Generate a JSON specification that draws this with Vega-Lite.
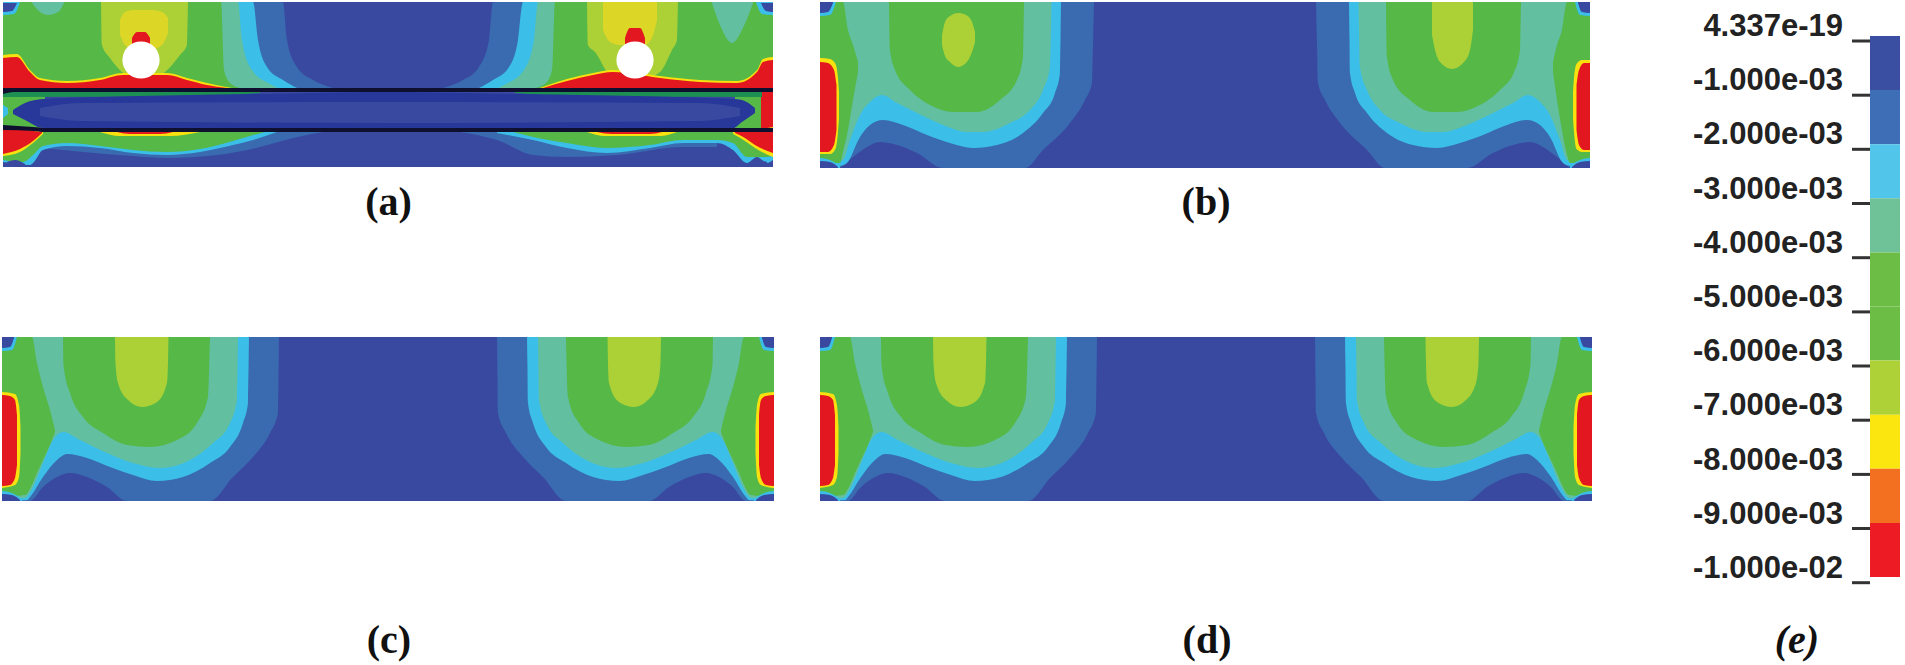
{"$schema":"https://vega.github.io/schema/vega-lite/v6.json","width":1905,"height":665,"padding":0,"autosize":{"type":"none"},"background":"white","config":{"view":{"stroke":null}},
"resolve":{"scale":{"fill":"independent"}},
"layer":[
{"data":{"values":[{"p":"a","x":3,"x2":773,"y":2,"y2":167},{"p":"b","x":820,"x2":1590,"y":2,"y2":168},{"p":"c","x":2,"x2":774,"y":337,"y2":501},{"p":"d","x":820,"x2":1592,"y":337,"y2":501}]},
"mark":{"type":"rect","fill":"#39499f"},
"encoding":{"x":{"field":"x","type":"quantitative","scale":{"domain":[0,1905],"nice":false,"zero":false},"axis":null},"x2":{"field":"x2"},"y":{"field":"y","type":"quantitative","scale":{"domain":[0,665],"reverse":true,"nice":false,"zero":false},"axis":null},"y2":{"field":"y2"}}},
{"data":{"values":[
{"s":"a2l","b":"L2","x":3,"y":2,"y2":88},{"s":"a2l","b":"L2","x":283,"y":2,"y2":88},{"s":"a2l","b":"L2","x":287,"y":40,"y2":88},{"s":"a2l","b":"L2","x":297,"y":67,"y2":88},{"s":"a2l","b":"L2","x":313,"y":80,"y2":88},{"s":"a2l","b":"L2","x":333,"y":88,"y2":88},
{"s":"a2r","b":"L2","x":443,"y":88,"y2":88},{"s":"a2r","b":"L2","x":463,"y":80,"y2":88},{"s":"a2r","b":"L2","x":479,"y":67,"y2":88},{"s":"a2r","b":"L2","x":489,"y":40,"y2":88},{"s":"a2r","b":"L2","x":493,"y":2,"y2":88},{"s":"a2r","b":"L2","x":773,"y":2,"y2":88},
{"s":"a3l","b":"L3","x":3,"y":2,"y2":88},{"s":"a3l","b":"L3","x":253,"y":2,"y2":88},{"s":"a3l","b":"L3","x":258,"y":40,"y2":88},{"s":"a3l","b":"L3","x":267,"y":67,"y2":88},{"s":"a3l","b":"L3","x":283,"y":80,"y2":88},{"s":"a3l","b":"L3","x":297,"y":88,"y2":88},
{"s":"a3r","b":"L3","x":479,"y":88,"y2":88},{"s":"a3r","b":"L3","x":493,"y":80,"y2":88},{"s":"a3r","b":"L3","x":509,"y":67,"y2":88},{"s":"a3r","b":"L3","x":518,"y":40,"y2":88},{"s":"a3r","b":"L3","x":523,"y":2,"y2":88},{"s":"a3r","b":"L3","x":773,"y":2,"y2":88},
{"s":"a4l","b":"L4","x":3,"y":2,"y2":88},{"s":"a4l","b":"L4","x":238,"y":2,"y2":88},{"s":"a4l","b":"L4","x":242,"y":40,"y2":88},{"s":"a4l","b":"L4","x":252,"y":70,"y2":88},{"s":"a4l","b":"L4","x":270,"y":84,"y2":88},{"s":"a4l","b":"L4","x":278,"y":88,"y2":88},
{"s":"a4r","b":"L4","x":498,"y":88,"y2":88},{"s":"a4r","b":"L4","x":506,"y":84,"y2":88},{"s":"a4r","b":"L4","x":524,"y":70,"y2":88},{"s":"a4r","b":"L4","x":534,"y":40,"y2":88},{"s":"a4r","b":"L4","x":538,"y":2,"y2":88},{"s":"a4r","b":"L4","x":773,"y":2,"y2":88},
{"s":"a5l","b":"L5","x":3,"y":2,"y2":88},{"s":"a5l","b":"L5","x":221,"y":2,"y2":88},{"s":"a5l","b":"L5","x":224,"y":70,"y2":88},{"s":"a5l","b":"L5","x":230,"y":83,"y2":88},{"s":"a5l","b":"L5","x":240,"y":88,"y2":88},
{"s":"a5r","b":"L5","x":536,"y":88,"y2":88},{"s":"a5r","b":"L5","x":546,"y":83,"y2":88},{"s":"a5r","b":"L5","x":552,"y":70,"y2":88},{"s":"a5r","b":"L5","x":555,"y":2,"y2":88},{"s":"a5r","b":"L5","x":773,"y":2,"y2":88},
{"s":"a4p","b":"L4","x":32,"y":2,"y2":3},{"s":"a4p","b":"L4","x":40,"y":2,"y2":12},{"s":"a4p","b":"L4","x":48,"y":2,"y2":15},{"s":"a4p","b":"L4","x":58,"y":2,"y2":12},{"s":"a4p","b":"L4","x":64,"y":2,"y2":3},
{"s":"a4q","b":"L4","x":712,"y":2,"y2":3},{"s":"a4q","b":"L4","x":720,"y":2,"y2":25},{"s":"a4q","b":"L4","x":732,"y":2,"y2":43},{"s":"a4q","b":"L4","x":742,"y":2,"y2":30},{"s":"a4q","b":"L4","x":753,"y":2,"y2":3},
{"s":"a7l","b":"L7","x":101,"y":2,"y2":2},{"s":"a7l","b":"L7","x":102,"y":2,"y2":45},{"s":"a7l","b":"L7","x":110,"y":2,"y2":58},{"s":"a7l","b":"L7","x":122,"y":2,"y2":72},{"s":"a7l","b":"L7","x":145,"y":2,"y2":82},{"s":"a7l","b":"L7","x":165,"y":2,"y2":72},{"s":"a7l","b":"L7","x":180,"y":2,"y2":55},{"s":"a7l","b":"L7","x":187,"y":2,"y2":45},{"s":"a7l","b":"L7","x":188,"y":2,"y2":2},
{"s":"a7r","b":"L7","x":587,"y":2,"y2":2},{"s":"a7r","b":"L7","x":588,"y":2,"y2":45},{"s":"a7r","b":"L7","x":595,"y":2,"y2":52},{"s":"a7r","b":"L7","x":610,"y":2,"y2":75},{"s":"a7r","b":"L7","x":635,"y":2,"y2":82},{"s":"a7r","b":"L7","x":660,"y":2,"y2":72},{"s":"a7r","b":"L7","x":672,"y":2,"y2":50},{"s":"a7r","b":"L7","x":677,"y":2,"y2":40},{"s":"a7r","b":"L7","x":678,"y":2,"y2":2},
{"s":"a8l","b":"Y2","x":120,"y":20,"y2":35},{"s":"a8l","b":"Y2","x":125,"y":12,"y2":45},{"s":"a8l","b":"Y2","x":135,"y":10,"y2":50},{"s":"a8l","b":"Y2","x":150,"y":10,"y2":50},{"s":"a8l","b":"Y2","x":162,"y":12,"y2":45},{"s":"a8l","b":"Y2","x":168,"y":18,"y2":33},
{"s":"a8r","b":"Y2","x":603,"y":2,"y2":30},{"s":"a8r","b":"Y2","x":610,"y":2,"y2":42},{"s":"a8r","b":"Y2","x":620,"y":2,"y2":45},{"s":"a8r","b":"Y2","x":645,"y":2,"y2":45},{"s":"a8r","b":"Y2","x":652,"y":2,"y2":38},{"s":"a8r","b":"Y2","x":657,"y":2,"y2":20},
{"s":"a9l","b":"L10","x":132,"y":38,"y2":44},{"s":"a9l","b":"L10","x":137,"y":32,"y2":44},{"s":"a9l","b":"L10","x":145,"y":32,"y2":44},{"s":"a9l","b":"L10","x":150,"y":38,"y2":44},
{"s":"a9r","b":"L10","x":625,"y":38,"y2":44},{"s":"a9r","b":"L10","x":630,"y":28,"y2":44},{"s":"a9r","b":"L10","x":640,"y":28,"y2":44},{"s":"a9r","b":"L10","x":645,"y":38,"y2":44},
{"s":"a8t","b":"L8","x":3,"y":55,"y2":88},{"s":"a8t","b":"L8","x":17,"y":54,"y2":88},{"s":"a8t","b":"L8","x":30,"y":70,"y2":88},{"s":"a8t","b":"L8","x":40,"y":78,"y2":88},{"s":"a8t","b":"L8","x":67,"y":81,"y2":88},{"s":"a8t","b":"L8","x":100,"y":78,"y2":88},{"s":"a8t","b":"L8","x":123,"y":73,"y2":88},{"s":"a8t","b":"L8","x":167,"y":73,"y2":88},{"s":"a8t","b":"L8","x":187,"y":78,"y2":88},{"s":"a8t","b":"L8","x":207,"y":83,"y2":88},{"s":"a8t","b":"L8","x":232,"y":88,"y2":88},
{"s":"a10t","b":"L10","x":3,"y":58,"y2":88},{"s":"a10t","b":"L10","x":17,"y":57,"y2":88},{"s":"a10t","b":"L10","x":30,"y":72,"y2":88},{"s":"a10t","b":"L10","x":40,"y":80,"y2":88},{"s":"a10t","b":"L10","x":67,"y":83,"y2":88},{"s":"a10t","b":"L10","x":100,"y":80,"y2":88},{"s":"a10t","b":"L10","x":123,"y":75,"y2":88},{"s":"a10t","b":"L10","x":167,"y":75,"y2":88},{"s":"a10t","b":"L10","x":187,"y":80,"y2":88},{"s":"a10t","b":"L10","x":207,"y":85,"y2":88},{"s":"a10t","b":"L10","x":227,"y":88,"y2":88},
{"s":"a8u","b":"L8","x":540,"y":88,"y2":88},{"s":"a8u","b":"L8","x":567,"y":79,"y2":88},{"s":"a8u","b":"L8","x":593,"y":73,"y2":88},{"s":"a8u","b":"L8","x":613,"y":70,"y2":88},{"s":"a8u","b":"L8","x":660,"y":76,"y2":88},{"s":"a8u","b":"L8","x":700,"y":80,"y2":88},{"s":"a8u","b":"L8","x":737,"y":81,"y2":88},{"s":"a8u","b":"L8","x":757,"y":70,"y2":88},{"s":"a8u","b":"L8","x":763,"y":59,"y2":88},{"s":"a8u","b":"L8","x":773,"y":57,"y2":88},
{"s":"a10u","b":"L10","x":543,"y":88,"y2":88},{"s":"a10u","b":"L10","x":567,"y":81,"y2":88},{"s":"a10u","b":"L10","x":593,"y":75,"y2":88},{"s":"a10u","b":"L10","x":613,"y":72,"y2":88},{"s":"a10u","b":"L10","x":660,"y":78,"y2":88},{"s":"a10u","b":"L10","x":700,"y":82,"y2":88},{"s":"a10u","b":"L10","x":737,"y":83,"y2":88},{"s":"a10u","b":"L10","x":757,"y":72,"y2":88},{"s":"a10u","b":"L10","x":763,"y":62,"y2":88},{"s":"a10u","b":"L10","x":773,"y":60,"y2":88},
{"s":"amg","b":"L5","x":3,"y":92,"y2":130},{"s":"amg","b":"L5","x":45,"y":92,"y2":130},
{"s":"amh","b":"L5","x":735,"y":92,"y2":130},{"s":"amh","b":"L5","x":761,"y":92,"y2":130},
{"s":"amr","b":"L10","x":761,"y":92,"y2":130},{"s":"amr","b":"L10","x":773,"y":92,"y2":130},
{"s":"amc","b":"L3","x":3,"y":105,"y2":118},{"s":"amc","b":"L3","x":8,"y":108,"y2":114},
{"s":"agt","b":"G","x":3,"y":92,"y2":97},{"s":"agt","b":"G","x":200,"y":92,"y2":96},{"s":"agt","b":"G","x":260,"y":92,"y2":93},
{"s":"agu","b":"G","x":515,"y":92,"y2":93},{"s":"agu","b":"G","x":575,"y":92,"y2":96},{"s":"agu","b":"G","x":762,"y":92,"y2":97},
{"s":"amd","b":"D","x":13,"y":110,"y2":114},{"s":"amd","b":"D","x":25,"y":103,"y2":120},{"s":"amd","b":"D","x":43,"y":99,"y2":128},{"s":"amd","b":"D","x":100,"y":97,"y2":128},{"s":"amd","b":"D","x":260,"y":94,"y2":128},{"s":"amd","b":"D","x":388,"y":92,"y2":128},{"s":"amd","b":"D","x":516,"y":94,"y2":128},{"s":"amd","b":"D","x":676,"y":97,"y2":128},{"s":"amd","b":"D","x":733,"y":99,"y2":128},{"s":"amd","b":"D","x":742,"y":100,"y2":122},{"s":"amd","b":"D","x":755,"y":108,"y2":113},
{"s":"aml","b":"L1","x":40,"y":108,"y2":116},{"s":"aml","b":"L1","x":80,"y":103,"y2":121},{"s":"aml","b":"L1","x":388,"y":102,"y2":123},{"s":"aml","b":"L1","x":700,"y":103,"y2":121},{"s":"aml","b":"L1","x":740,"y":108,"y2":116},
{"s":"akt","b":"K","x":3,"y":88,"y2":94},{"s":"akt","b":"K","x":14,"y":88,"y2":92},{"s":"akt","b":"K","x":773,"y":88,"y2":92},
{"s":"abb","b":"L2","x":43,"y":132,"y2":148},{"s":"abb","b":"L2","x":83,"y":132,"y2":152},{"s":"abb","b":"L2","x":133,"y":132,"y2":156},{"s":"abb","b":"L2","x":167,"y":132,"y2":158},{"s":"abb","b":"L2","x":217,"y":132,"y2":155},{"s":"abb","b":"L2","x":260,"y":132,"y2":147},{"s":"abb","b":"L2","x":293,"y":132,"y2":138},{"s":"abb","b":"L2","x":323,"y":132,"y2":132},
{"s":"abc","b":"L2","x":460,"y":132,"y2":132},{"s":"abc","b":"L2","x":497,"y":132,"y2":140},{"s":"abc","b":"L2","x":533,"y":132,"y2":155},{"s":"abc","b":"L2","x":567,"y":132,"y2":157},{"s":"abc","b":"L2","x":617,"y":132,"y2":155},{"s":"abc","b":"L2","x":683,"y":132,"y2":147},{"s":"abc","b":"L2","x":717,"y":132,"y2":147},
{"s":"acb","b":"L3","x":3,"y":132,"y2":162},{"s":"acb","b":"L3","x":30,"y":132,"y2":165},{"s":"acb","b":"L3","x":33,"y":132,"y2":163},{"s":"acb","b":"L3","x":43,"y":132,"y2":150},{"s":"acb","b":"L3","x":67,"y":132,"y2":146},{"s":"acb","b":"L3","x":100,"y":132,"y2":148},{"s":"acb","b":"L3","x":133,"y":132,"y2":153},{"s":"acb","b":"L3","x":167,"y":132,"y2":155},{"s":"acb","b":"L3","x":200,"y":132,"y2":152},{"s":"acb","b":"L3","x":233,"y":132,"y2":145},{"s":"acb","b":"L3","x":253,"y":132,"y2":140},{"s":"acb","b":"L3","x":277,"y":132,"y2":132},
{"s":"acc","b":"L3","x":497,"y":132,"y2":133},{"s":"acc","b":"L3","x":533,"y":132,"y2":140},{"s":"acc","b":"L3","x":567,"y":132,"y2":148},{"s":"acc","b":"L3","x":607,"y":132,"y2":153},{"s":"acc","b":"L3","x":650,"y":132,"y2":148},{"s":"acc","b":"L3","x":683,"y":132,"y2":143},{"s":"acc","b":"L3","x":717,"y":132,"y2":143},{"s":"acc","b":"L3","x":733,"y":132,"y2":150},{"s":"acc","b":"L3","x":747,"y":132,"y2":163},{"s":"acc","b":"L3","x":757,"y":132,"y2":157},{"s":"acc","b":"L3","x":767,"y":132,"y2":163},{"s":"acc","b":"L3","x":773,"y":132,"y2":160},
{"s":"agb","b":"L5","x":3,"y":132,"y2":160},{"s":"agb","b":"L5","x":23,"y":132,"y2":162},{"s":"agb","b":"L5","x":33,"y":132,"y2":155},{"s":"agb","b":"L5","x":43,"y":132,"y2":146},{"s":"agb","b":"L5","x":67,"y":132,"y2":143},{"s":"agb","b":"L5","x":100,"y":132,"y2":146},{"s":"agb","b":"L5","x":133,"y":132,"y2":150},{"s":"agb","b":"L5","x":167,"y":132,"y2":152},{"s":"agb","b":"L5","x":200,"y":132,"y2":149},{"s":"agb","b":"L5","x":233,"y":132,"y2":141},{"s":"agb","b":"L5","x":250,"y":132,"y2":136},{"s":"agb","b":"L5","x":265,"y":132,"y2":132},
{"s":"agc","b":"L5","x":513,"y":132,"y2":132},{"s":"agc","b":"L5","x":533,"y":132,"y2":137},{"s":"agc","b":"L5","x":567,"y":132,"y2":143},{"s":"agc","b":"L5","x":607,"y":132,"y2":148},{"s":"agc","b":"L5","x":650,"y":132,"y2":145},{"s":"agc","b":"L5","x":683,"y":132,"y2":140},{"s":"agc","b":"L5","x":717,"y":132,"y2":140},{"s":"agc","b":"L5","x":733,"y":132,"y2":143},{"s":"agc","b":"L5","x":747,"y":132,"y2":157},{"s":"agc","b":"L5","x":767,"y":132,"y2":157},{"s":"agc","b":"L5","x":773,"y":132,"y2":155},
{"s":"ay1","b":"L8","x":100,"y":132,"y2":132},{"s":"ay1","b":"L8","x":120,"y":132,"y2":136},{"s":"ay1","b":"L8","x":170,"y":132,"y2":136},{"s":"ay1","b":"L8","x":200,"y":132,"y2":132},
{"s":"ay2","b":"L8","x":587,"y":132,"y2":132},{"s":"ay2","b":"L8","x":605,"y":132,"y2":136},{"s":"ay2","b":"L8","x":660,"y":132,"y2":136},{"s":"ay2","b":"L8","x":677,"y":132,"y2":132},
{"s":"ar1","b":"L10","x":117,"y":132,"y2":132},{"s":"ar1","b":"L10","x":130,"y":132,"y2":134},{"s":"ar1","b":"L10","x":160,"y":132,"y2":134},{"s":"ar1","b":"L10","x":173,"y":132,"y2":132},
{"s":"ar2","b":"L10","x":597,"y":132,"y2":132},{"s":"ar2","b":"L10","x":612,"y":132,"y2":134},{"s":"ar2","b":"L10","x":650,"y":132,"y2":134},{"s":"ar2","b":"L10","x":662,"y":132,"y2":132},
{"s":"ay3","b":"L8","x":3,"y":126,"y2":156},{"s":"ay3","b":"L8","x":20,"y":128,"y2":152},{"s":"ay3","b":"L8","x":33,"y":130,"y2":143},{"s":"ay3","b":"L8","x":43,"y":132,"y2":134},
{"s":"ar3","b":"L10","x":3,"y":128,"y2":154},{"s":"ar3","b":"L10","x":20,"y":129,"y2":149},{"s":"ar3","b":"L10","x":33,"y":131,"y2":141},{"s":"ar3","b":"L10","x":42,"y":132,"y2":133},
{"s":"ay4","b":"L8","x":733,"y":132,"y2":134},{"s":"ay4","b":"L8","x":745,"y":131,"y2":141},{"s":"ay4","b":"L8","x":755,"y":130,"y2":148},{"s":"ay4","b":"L8","x":773,"y":127,"y2":157},
{"s":"ar4","b":"L10","x":735,"y":132,"y2":133},{"s":"ar4","b":"L10","x":745,"y":131,"y2":138},{"s":"ar4","b":"L10","x":755,"y":130,"y2":145},{"s":"ar4","b":"L10","x":773,"y":128,"y2":153},
{"s":"akb","b":"K","x":3,"y":125,"y2":130},{"s":"akb","b":"K","x":33,"y":127,"y2":131},{"s":"akb","b":"K","x":45,"y":128,"y2":132},{"s":"akb","b":"K","x":773,"y":128,"y2":132},
{"s":"ac1","b":"L3","x":3,"y":2,"y2":15},{"s":"ac1","b":"L3","x":14,"y":2,"y2":14},{"s":"ac1","b":"L3","x":20,"y":2,"y2":2},
{"s":"ad1","b":"L1","x":3,"y":3,"y2":12},{"s":"ad1","b":"L1","x":12,"y":3,"y2":11},{"s":"ad1","b":"L1","x":17,"y":3,"y2":3},
{"s":"ac2","b":"L3","x":756,"y":2,"y2":2},{"s":"ac2","b":"L3","x":762,"y":2,"y2":14},{"s":"ac2","b":"L3","x":773,"y":2,"y2":15},
{"s":"ad2","b":"L1","x":761,"y":3,"y2":3},{"s":"ad2","b":"L1","x":766,"y":3,"y2":11},{"s":"ad2","b":"L1","x":773,"y":3,"y2":12},
{"s":"ad3","b":"L1","x":7,"y":162,"y2":167},{"s":"ad3","b":"L1","x":15,"y":160,"y2":167},{"s":"ad3","b":"L1","x":25,"y":164,"y2":167},
{"s":"ad4","b":"L1","x":750,"y":164,"y2":167},{"s":"ad4","b":"L1","x":758,"y":160,"y2":167},{"s":"ad4","b":"L1","x":767,"y":162,"y2":167},

{"s":"b2l","b":"L2","x":820,"y":2,"y2":168},{"s":"b2l","b":"L2","x":838,"y":2,"y2":168},{"s":"b2l","b":"L2","x":853,"y":2,"y2":157},{"s":"b2l","b":"L2","x":867,"y":2,"y2":147},{"s":"b2l","b":"L2","x":880,"y":2,"y2":142},{"s":"b2l","b":"L2","x":897,"y":2,"y2":145},{"s":"b2l","b":"L2","x":917,"y":2,"y2":153},{"s":"b2l","b":"L2","x":943,"y":2,"y2":168},{"s":"b2l","b":"L2","x":1025,"y":2,"y2":168},{"s":"b2l","b":"L2","x":1043,"y":2,"y2":150},{"s":"b2l","b":"L2","x":1070,"y":2,"y2":123},{"s":"b2l","b":"L2","x":1085,"y":2,"y2":100},{"s":"b2l","b":"L2","x":1092,"y":2,"y2":83},{"s":"b2l","b":"L2","x":1093,"y":2,"y2":45},{"s":"b2l","b":"L2","x":1094,"y":2,"y2":2},
{"s":"b2r","b":"L2","x":1316,"y":2,"y2":2},{"s":"b2r","b":"L2","x":1317,"y":2,"y2":45},{"s":"b2r","b":"L2","x":1318,"y":2,"y2":83},{"s":"b2r","b":"L2","x":1325,"y":2,"y2":100},{"s":"b2r","b":"L2","x":1340,"y":2,"y2":123},{"s":"b2r","b":"L2","x":1367,"y":2,"y2":150},{"s":"b2r","b":"L2","x":1385,"y":2,"y2":168},{"s":"b2r","b":"L2","x":1467,"y":2,"y2":168},{"s":"b2r","b":"L2","x":1493,"y":2,"y2":153},{"s":"b2r","b":"L2","x":1513,"y":2,"y2":145},{"s":"b2r","b":"L2","x":1530,"y":2,"y2":142},{"s":"b2r","b":"L2","x":1543,"y":2,"y2":147},{"s":"b2r","b":"L2","x":1557,"y":2,"y2":157},{"s":"b2r","b":"L2","x":1572,"y":2,"y2":168},{"s":"b2r","b":"L2","x":1590,"y":2,"y2":168},
{"s":"b3l","b":"L3","x":820,"y":2,"y2":168},{"s":"b3l","b":"L3","x":840,"y":2,"y2":166},{"s":"b3l","b":"L3","x":847,"y":2,"y2":163},{"s":"b3l","b":"L3","x":860,"y":2,"y2":137},{"s":"b3l","b":"L3","x":870,"y":2,"y2":125},{"s":"b3l","b":"L3","x":883,"y":2,"y2":120},{"s":"b3l","b":"L3","x":903,"y":2,"y2":125},{"s":"b3l","b":"L3","x":927,"y":2,"y2":135},{"s":"b3l","b":"L3","x":950,"y":2,"y2":143},{"s":"b3l","b":"L3","x":973,"y":2,"y2":148},{"s":"b3l","b":"L3","x":997,"y":2,"y2":145},{"s":"b3l","b":"L3","x":1023,"y":2,"y2":133},{"s":"b3l","b":"L3","x":1043,"y":2,"y2":113},{"s":"b3l","b":"L3","x":1055,"y":2,"y2":93},{"s":"b3l","b":"L3","x":1060,"y":2,"y2":73},{"s":"b3l","b":"L3","x":1060.5,"y":2,"y2":40},{"s":"b3l","b":"L3","x":1061,"y":2,"y2":2},
{"s":"b3r","b":"L3","x":1349,"y":2,"y2":2},{"s":"b3r","b":"L3","x":1349.5,"y":2,"y2":40},{"s":"b3r","b":"L3","x":1350,"y":2,"y2":73},{"s":"b3r","b":"L3","x":1355,"y":2,"y2":93},{"s":"b3r","b":"L3","x":1367,"y":2,"y2":113},{"s":"b3r","b":"L3","x":1387,"y":2,"y2":133},{"s":"b3r","b":"L3","x":1413,"y":2,"y2":145},{"s":"b3r","b":"L3","x":1437,"y":2,"y2":148},{"s":"b3r","b":"L3","x":1460,"y":2,"y2":143},{"s":"b3r","b":"L3","x":1483,"y":2,"y2":135},{"s":"b3r","b":"L3","x":1507,"y":2,"y2":125},{"s":"b3r","b":"L3","x":1527,"y":2,"y2":120},{"s":"b3r","b":"L3","x":1540,"y":2,"y2":125},{"s":"b3r","b":"L3","x":1550,"y":2,"y2":137},{"s":"b3r","b":"L3","x":1563,"y":2,"y2":163},{"s":"b3r","b":"L3","x":1570,"y":2,"y2":166},{"s":"b3r","b":"L3","x":1590,"y":2,"y2":168},
{"s":"b4l","b":"L4","x":820,"y":2,"y2":166},{"s":"b4l","b":"L4","x":843,"y":2,"y2":160},{"s":"b4l","b":"L4","x":850,"y":2,"y2":140},{"s":"b4l","b":"L4","x":860,"y":2,"y2":115},{"s":"b4l","b":"L4","x":870,"y":2,"y2":102},{"s":"b4l","b":"L4","x":882,"y":2,"y2":95},{"s":"b4l","b":"L4","x":897,"y":2,"y2":103},{"s":"b4l","b":"L4","x":917,"y":2,"y2":113},{"s":"b4l","b":"L4","x":943,"y":2,"y2":125},{"s":"b4l","b":"L4","x":967,"y":2,"y2":132},{"s":"b4l","b":"L4","x":983,"y":2,"y2":132},{"s":"b4l","b":"L4","x":1010,"y":2,"y2":123},{"s":"b4l","b":"L4","x":1030,"y":2,"y2":110},{"s":"b4l","b":"L4","x":1043,"y":2,"y2":90},{"s":"b4l","b":"L4","x":1050,"y":2,"y2":67},{"s":"b4l","b":"L4","x":1051,"y":2,"y2":30},{"s":"b4l","b":"L4","x":1051.5,"y":2,"y2":2},
{"s":"b4r","b":"L4","x":1358.5,"y":2,"y2":2},{"s":"b4r","b":"L4","x":1359,"y":2,"y2":30},{"s":"b4r","b":"L4","x":1360,"y":2,"y2":67},{"s":"b4r","b":"L4","x":1367,"y":2,"y2":90},{"s":"b4r","b":"L4","x":1380,"y":2,"y2":110},{"s":"b4r","b":"L4","x":1400,"y":2,"y2":123},{"s":"b4r","b":"L4","x":1427,"y":2,"y2":132},{"s":"b4r","b":"L4","x":1443,"y":2,"y2":132},{"s":"b4r","b":"L4","x":1467,"y":2,"y2":125},{"s":"b4r","b":"L4","x":1493,"y":2,"y2":113},{"s":"b4r","b":"L4","x":1513,"y":2,"y2":103},{"s":"b4r","b":"L4","x":1528,"y":2,"y2":95},{"s":"b4r","b":"L4","x":1540,"y":2,"y2":102},{"s":"b4r","b":"L4","x":1550,"y":2,"y2":115},{"s":"b4r","b":"L4","x":1560,"y":2,"y2":140},{"s":"b4r","b":"L4","x":1567,"y":2,"y2":160},{"s":"b4r","b":"L4","x":1590,"y":2,"y2":166},
{"s":"b5s","b":"L5","x":820,"y":2,"y2":163},{"s":"b5s","b":"L5","x":840,"y":2,"y2":163},{"s":"b5s","b":"L5","x":843,"y":2,"y2":152},{"s":"b5s","b":"L5","x":848,"y":30,"y2":130},{"s":"b5s","b":"L5","x":853,"y":45,"y2":100},{"s":"b5s","b":"L5","x":858,"y":62,"y2":72},
{"s":"b5t","b":"L5","x":1553,"y":62,"y2":72},{"s":"b5t","b":"L5","x":1557,"y":45,"y2":100},{"s":"b5t","b":"L5","x":1562,"y":30,"y2":130},{"s":"b5t","b":"L5","x":1567,"y":2,"y2":155},{"s":"b5t","b":"L5","x":1570,"y":2,"y2":163},{"s":"b5t","b":"L5","x":1590,"y":2,"y2":163},
{"s":"b5l","b":"L5","x":889,"y":2,"y2":2},{"s":"b5l","b":"L5","x":890,"y":2,"y2":50},{"s":"b5l","b":"L5","x":895,"y":2,"y2":70},{"s":"b5l","b":"L5","x":910,"y":2,"y2":90},{"s":"b5l","b":"L5","x":930,"y":2,"y2":105},{"s":"b5l","b":"L5","x":953,"y":2,"y2":112},{"s":"b5l","b":"L5","x":977,"y":2,"y2":112},{"s":"b5l","b":"L5","x":1000,"y":2,"y2":100},{"s":"b5l","b":"L5","x":1017,"y":2,"y2":80},{"s":"b5l","b":"L5","x":1023,"y":2,"y2":57},{"s":"b5l","b":"L5","x":1024,"y":2,"y2":2},
{"s":"b5r","b":"L5","x":1386,"y":2,"y2":2},{"s":"b5r","b":"L5","x":1387,"y":2,"y2":57},{"s":"b5r","b":"L5","x":1393,"y":2,"y2":80},{"s":"b5r","b":"L5","x":1410,"y":2,"y2":100},{"s":"b5r","b":"L5","x":1433,"y":2,"y2":112},{"s":"b5r","b":"L5","x":1457,"y":2,"y2":112},{"s":"b5r","b":"L5","x":1480,"y":2,"y2":105},{"s":"b5r","b":"L5","x":1500,"y":2,"y2":90},{"s":"b5r","b":"L5","x":1515,"y":2,"y2":70},{"s":"b5r","b":"L5","x":1520,"y":2,"y2":50},{"s":"b5r","b":"L5","x":1521,"y":2,"y2":2},
{"s":"b7l","b":"L7","x":942,"y":35,"y2":45},{"s":"b7l","b":"L7","x":945,"y":22,"y2":56},{"s":"b7l","b":"L7","x":950,"y":16,"y2":62},{"s":"b7l","b":"L7","x":958,"y":13,"y2":67},{"s":"b7l","b":"L7","x":966,"y":15,"y2":63},{"s":"b7l","b":"L7","x":972,"y":22,"y2":52},{"s":"b7l","b":"L7","x":975,"y":32,"y2":42},
{"s":"b7r","b":"L7","x":1432,"y":2,"y2":35},{"s":"b7r","b":"L7","x":1435,"y":2,"y2":50},{"s":"b7r","b":"L7","x":1440,"y":2,"y2":62},{"s":"b7r","b":"L7","x":1452,"y":2,"y2":69},{"s":"b7r","b":"L7","x":1464,"y":2,"y2":62},{"s":"b7r","b":"L7","x":1470,"y":2,"y2":50},{"s":"b7r","b":"L7","x":1473,"y":2,"y2":30},
{"s":"b8l","b":"L8","x":820,"y":58,"y2":154},{"s":"b8l","b":"L8","x":830,"y":59,"y2":154},{"s":"b8l","b":"L8","x":835.5,"y":64,"y2":149},{"s":"b8l","b":"L8","x":838,"y":78,"y2":132},{"s":"b8l","b":"L8","x":839,"y":92,"y2":118},
{"s":"b10l","b":"L10","x":820,"y":62,"y2":152},{"s":"b10l","b":"L10","x":828,"y":63,"y2":152},{"s":"b10l","b":"L10","x":834,"y":70,"y2":145},{"s":"b10l","b":"L10","x":836.5,"y":85,"y2":130},
{"s":"b8r","b":"L8","x":1573,"y":92,"y2":118},{"s":"b8r","b":"L8","x":1574,"y":78,"y2":132},{"s":"b8r","b":"L8","x":1576.5,"y":64,"y2":149},{"s":"b8r","b":"L8","x":1582,"y":60,"y2":152},{"s":"b8r","b":"L8","x":1590,"y":60,"y2":152},
{"s":"b10r","b":"L10","x":1576.5,"y":85,"y2":130},{"s":"b10r","b":"L10","x":1579,"y":70,"y2":145},{"s":"b10r","b":"L10","x":1584,"y":63,"y2":150},{"s":"b10r","b":"L10","x":1590,"y":63,"y2":150},
{"s":"bc1","b":"L3","x":820,"y":2,"y2":16},{"s":"bc1","b":"L3","x":830,"y":2,"y2":15},{"s":"bc1","b":"L3","x":836,"y":2,"y2":2},
{"s":"bd1","b":"L1","x":820,"y":2,"y2":13},{"s":"bd1","b":"L1","x":828,"y":2,"y2":12},{"s":"bd1","b":"L1","x":833,"y":2,"y2":3},
{"s":"bc2","b":"L3","x":820,"y":158,"y2":168},{"s":"bc2","b":"L3","x":830,"y":160,"y2":168},{"s":"bc2","b":"L3","x":840,"y":166,"y2":168},
{"s":"bd2","b":"L1","x":820,"y":161,"y2":168},{"s":"bd2","b":"L1","x":830,"y":162,"y2":168},{"s":"bd2","b":"L1","x":838,"y":167,"y2":168},
{"s":"bc3","b":"L3","x":1575,"y":2,"y2":2},{"s":"bc3","b":"L3","x":1580,"y":2,"y2":15},{"s":"bc3","b":"L3","x":1590,"y":2,"y2":16},
{"s":"bd3","b":"L1","x":1578,"y":2,"y2":3},{"s":"bd3","b":"L1","x":1582,"y":2,"y2":12},{"s":"bd3","b":"L1","x":1590,"y":2,"y2":13},
{"s":"bc4","b":"L3","x":1570,"y":166,"y2":168},{"s":"bc4","b":"L3","x":1580,"y":160,"y2":168},{"s":"bc4","b":"L3","x":1590,"y":158,"y2":168},
{"s":"bd4","b":"L1","x":1572,"y":167,"y2":168},{"s":"bd4","b":"L1","x":1580,"y":162,"y2":168},{"s":"bd4","b":"L1","x":1590,"y":161,"y2":168},

{"s":"c2l","b":"L2","x":2,"y":337,"y2":501},{"s":"c2l","b":"L2","x":30,"y":337,"y2":501},{"s":"c2l","b":"L2","x":43,"y":337,"y2":487},{"s":"c2l","b":"L2","x":57,"y":337,"y2":477},{"s":"c2l","b":"L2","x":70,"y":337,"y2":473},{"s":"c2l","b":"L2","x":87,"y":337,"y2":477},{"s":"c2l","b":"L2","x":107,"y":337,"y2":487},{"s":"c2l","b":"L2","x":127,"y":337,"y2":501},{"s":"c2l","b":"L2","x":210,"y":337,"y2":501},{"s":"c2l","b":"L2","x":233,"y":337,"y2":477},{"s":"c2l","b":"L2","x":253,"y":337,"y2":457},{"s":"c2l","b":"L2","x":270,"y":337,"y2":433},{"s":"c2l","b":"L2","x":278,"y":337,"y2":413},{"s":"c2l","b":"L2","x":278.5,"y":337,"y2":380},{"s":"c2l","b":"L2","x":279,"y":337,"y2":337},
{"s":"c2r","b":"L2","x":497,"y":337,"y2":337},{"s":"c2r","b":"L2","x":497.5,"y":337,"y2":380},{"s":"c2r","b":"L2","x":498,"y":337,"y2":413},{"s":"c2r","b":"L2","x":506,"y":337,"y2":433},{"s":"c2r","b":"L2","x":523,"y":337,"y2":457},{"s":"c2r","b":"L2","x":543,"y":337,"y2":477},{"s":"c2r","b":"L2","x":566,"y":337,"y2":501},{"s":"c2r","b":"L2","x":649,"y":337,"y2":501},{"s":"c2r","b":"L2","x":669,"y":337,"y2":487},{"s":"c2r","b":"L2","x":689,"y":337,"y2":477},{"s":"c2r","b":"L2","x":706,"y":337,"y2":473},{"s":"c2r","b":"L2","x":719,"y":337,"y2":477},{"s":"c2r","b":"L2","x":733,"y":337,"y2":487},{"s":"c2r","b":"L2","x":746,"y":337,"y2":501},{"s":"c2r","b":"L2","x":774,"y":337,"y2":501},
{"s":"c3l","b":"L3","x":2,"y":337,"y2":501},{"s":"c3l","b":"L3","x":27,"y":337,"y2":500},{"s":"c3l","b":"L3","x":30,"y":337,"y2":497},{"s":"c3l","b":"L3","x":43,"y":337,"y2":477},{"s":"c3l","b":"L3","x":57,"y":337,"y2":460},{"s":"c3l","b":"L3","x":67,"y":337,"y2":454},{"s":"c3l","b":"L3","x":87,"y":337,"y2":458},{"s":"c3l","b":"L3","x":110,"y":337,"y2":467},{"s":"c3l","b":"L3","x":133,"y":337,"y2":475},{"s":"c3l","b":"L3","x":157,"y":337,"y2":481},{"s":"c3l","b":"L3","x":183,"y":337,"y2":477},{"s":"c3l","b":"L3","x":210,"y":337,"y2":463},{"s":"c3l","b":"L3","x":230,"y":337,"y2":447},{"s":"c3l","b":"L3","x":243,"y":337,"y2":423},{"s":"c3l","b":"L3","x":248,"y":337,"y2":403},{"s":"c3l","b":"L3","x":248.5,"y":337,"y2":370},{"s":"c3l","b":"L3","x":249,"y":337,"y2":337},
{"s":"c3r","b":"L3","x":527,"y":337,"y2":337},{"s":"c3r","b":"L3","x":527.5,"y":337,"y2":370},{"s":"c3r","b":"L3","x":528,"y":337,"y2":403},{"s":"c3r","b":"L3","x":533,"y":337,"y2":423},{"s":"c3r","b":"L3","x":546,"y":337,"y2":447},{"s":"c3r","b":"L3","x":566,"y":337,"y2":463},{"s":"c3r","b":"L3","x":593,"y":337,"y2":477},{"s":"c3r","b":"L3","x":619,"y":337,"y2":481},{"s":"c3r","b":"L3","x":643,"y":337,"y2":475},{"s":"c3r","b":"L3","x":666,"y":337,"y2":467},{"s":"c3r","b":"L3","x":689,"y":337,"y2":458},{"s":"c3r","b":"L3","x":709,"y":337,"y2":454},{"s":"c3r","b":"L3","x":719,"y":337,"y2":460},{"s":"c3r","b":"L3","x":733,"y":337,"y2":477},{"s":"c3r","b":"L3","x":746,"y":337,"y2":497},{"s":"c3r","b":"L3","x":749,"y":337,"y2":500},{"s":"c3r","b":"L3","x":774,"y":337,"y2":501},
{"s":"c4l","b":"L4","x":2,"y":337,"y2":500},{"s":"c4l","b":"L4","x":25,"y":337,"y2":498},{"s":"c4l","b":"L4","x":33,"y":337,"y2":487},{"s":"c4l","b":"L4","x":43,"y":337,"y2":463},{"s":"c4l","b":"L4","x":53,"y":337,"y2":440},{"s":"c4l","b":"L4","x":63,"y":337,"y2":432},{"s":"c4l","b":"L4","x":80,"y":337,"y2":440},{"s":"c4l","b":"L4","x":107,"y":337,"y2":453},{"s":"c4l","b":"L4","x":133,"y":337,"y2":463},{"s":"c4l","b":"L4","x":160,"y":337,"y2":468},{"s":"c4l","b":"L4","x":190,"y":337,"y2":460},{"s":"c4l","b":"L4","x":213,"y":337,"y2":443},{"s":"c4l","b":"L4","x":230,"y":337,"y2":423},{"s":"c4l","b":"L4","x":237,"y":337,"y2":400},{"s":"c4l","b":"L4","x":237.5,"y":337,"y2":370},{"s":"c4l","b":"L4","x":238,"y":337,"y2":337},
{"s":"c4r","b":"L4","x":538,"y":337,"y2":337},{"s":"c4r","b":"L4","x":538.5,"y":337,"y2":370},{"s":"c4r","b":"L4","x":539,"y":337,"y2":400},{"s":"c4r","b":"L4","x":546,"y":337,"y2":423},{"s":"c4r","b":"L4","x":563,"y":337,"y2":443},{"s":"c4r","b":"L4","x":586,"y":337,"y2":460},{"s":"c4r","b":"L4","x":616,"y":337,"y2":468},{"s":"c4r","b":"L4","x":643,"y":337,"y2":463},{"s":"c4r","b":"L4","x":669,"y":337,"y2":453},{"s":"c4r","b":"L4","x":696,"y":337,"y2":440},{"s":"c4r","b":"L4","x":713,"y":337,"y2":432},{"s":"c4r","b":"L4","x":723,"y":337,"y2":440},{"s":"c4r","b":"L4","x":733,"y":337,"y2":463},{"s":"c4r","b":"L4","x":743,"y":337,"y2":487},{"s":"c4r","b":"L4","x":751,"y":337,"y2":498},{"s":"c4r","b":"L4","x":774,"y":337,"y2":500},
{"s":"c5s","b":"L5","x":2,"y":337,"y2":497},{"s":"c5s","b":"L5","x":25,"y":337,"y2":495},{"s":"c5s","b":"L5","x":32,"y":337,"y2":485},{"s":"c5s","b":"L5","x":37,"y":363,"y2":473},{"s":"c5s","b":"L5","x":43,"y":387,"y2":460},{"s":"c5s","b":"L5","x":50,"y":410,"y2":445},{"s":"c5s","b":"L5","x":55,"y":430,"y2":432},
{"s":"c5t","b":"L5","x":721,"y":430,"y2":432},{"s":"c5t","b":"L5","x":726,"y":410,"y2":445},{"s":"c5t","b":"L5","x":733,"y":387,"y2":460},{"s":"c5t","b":"L5","x":739,"y":363,"y2":473},{"s":"c5t","b":"L5","x":744,"y":337,"y2":485},{"s":"c5t","b":"L5","x":751,"y":337,"y2":495},{"s":"c5t","b":"L5","x":774,"y":337,"y2":497},
{"s":"c5l","b":"L5","x":63,"y":337,"y2":337},{"s":"c5l","b":"L5","x":63.5,"y":337,"y2":365},{"s":"c5l","b":"L5","x":70,"y":337,"y2":393},{"s":"c5l","b":"L5","x":83,"y":337,"y2":417},{"s":"c5l","b":"L5","x":103,"y":337,"y2":433},{"s":"c5l","b":"L5","x":127,"y":337,"y2":445},{"s":"c5l","b":"L5","x":150,"y":337,"y2":447},{"s":"c5l","b":"L5","x":177,"y":337,"y2":440},{"s":"c5l","b":"L5","x":197,"y":337,"y2":423},{"s":"c5l","b":"L5","x":208,"y":337,"y2":397},{"s":"c5l","b":"L5","x":210,"y":337,"y2":337},
{"s":"c5r","b":"L5","x":566,"y":337,"y2":337},{"s":"c5r","b":"L5","x":568,"y":337,"y2":397},{"s":"c5r","b":"L5","x":579,"y":337,"y2":423},{"s":"c5r","b":"L5","x":599,"y":337,"y2":440},{"s":"c5r","b":"L5","x":626,"y":337,"y2":447},{"s":"c5r","b":"L5","x":649,"y":337,"y2":445},{"s":"c5r","b":"L5","x":673,"y":337,"y2":433},{"s":"c5r","b":"L5","x":693,"y":337,"y2":417},{"s":"c5r","b":"L5","x":706,"y":337,"y2":393},{"s":"c5r","b":"L5","x":712.5,"y":337,"y2":365},{"s":"c5r","b":"L5","x":713,"y":337,"y2":337},
{"s":"c7l","b":"L7","x":115,"y":337,"y2":337},{"s":"c7l","b":"L7","x":115.5,"y":337,"y2":363},{"s":"c7l","b":"L7","x":118,"y":337,"y2":383},{"s":"c7l","b":"L7","x":128,"y":337,"y2":400},{"s":"c7l","b":"L7","x":142,"y":337,"y2":407},{"s":"c7l","b":"L7","x":157,"y":337,"y2":402},{"s":"c7l","b":"L7","x":167,"y":337,"y2":383},{"s":"c7l","b":"L7","x":168,"y":337,"y2":363},{"s":"c7l","b":"L7","x":168.5,"y":337,"y2":337},
{"s":"c7r","b":"L7","x":607.5,"y":337,"y2":337},{"s":"c7r","b":"L7","x":608,"y":337,"y2":363},{"s":"c7r","b":"L7","x":609,"y":337,"y2":383},{"s":"c7r","b":"L7","x":619,"y":337,"y2":402},{"s":"c7r","b":"L7","x":634,"y":337,"y2":407},{"s":"c7r","b":"L7","x":648,"y":337,"y2":400},{"s":"c7r","b":"L7","x":658,"y":337,"y2":383},{"s":"c7r","b":"L7","x":660.5,"y":337,"y2":363},{"s":"c7r","b":"L7","x":661,"y":337,"y2":337},
{"s":"c8l","b":"L8","x":2,"y":392,"y2":488},{"s":"c8l","b":"L8","x":15,"y":394,"y2":485},{"s":"c8l","b":"L8","x":19,"y":405,"y2":477},{"s":"c8l","b":"L8","x":20.5,"y":427,"y2":453},
{"s":"c10l","b":"L10","x":2,"y":395,"y2":486},{"s":"c10l","b":"L10","x":10,"y":396,"y2":485},{"s":"c10l","b":"L10","x":15,"y":400,"y2":478},{"s":"c10l","b":"L10","x":17,"y":415,"y2":465},
{"s":"c8r","b":"L8","x":755.5,"y":427,"y2":453},{"s":"c8r","b":"L8","x":757,"y":405,"y2":477},{"s":"c8r","b":"L8","x":761,"y":394,"y2":485},{"s":"c8r","b":"L8","x":774,"y":392,"y2":488},
{"s":"c10r","b":"L10","x":759,"y":415,"y2":465},{"s":"c10r","b":"L10","x":761,"y":400,"y2":478},{"s":"c10r","b":"L10","x":766,"y":396,"y2":485},{"s":"c10r","b":"L10","x":774,"y":395,"y2":486},
{"s":"cc1","b":"L3","x":2,"y":337,"y2":351},{"s":"cc1","b":"L3","x":12,"y":337,"y2":350},{"s":"cc1","b":"L3","x":17,"y":337,"y2":337},
{"s":"cd1","b":"L1","x":2,"y":337,"y2":348},{"s":"cd1","b":"L1","x":10,"y":337,"y2":347},{"s":"cd1","b":"L1","x":14,"y":337,"y2":338},
{"s":"cc2","b":"L3","x":2,"y":491,"y2":501},{"s":"cc2","b":"L3","x":12,"y":493,"y2":501},{"s":"cc2","b":"L3","x":22,"y":499,"y2":501},
{"s":"cd2","b":"L1","x":2,"y":494,"y2":501},{"s":"cd2","b":"L1","x":12,"y":495,"y2":501},{"s":"cd2","b":"L1","x":20,"y":500,"y2":501},
{"s":"cc3","b":"L3","x":759,"y":337,"y2":337},{"s":"cc3","b":"L3","x":764,"y":337,"y2":350},{"s":"cc3","b":"L3","x":774,"y":337,"y2":351},
{"s":"cd3","b":"L1","x":762,"y":337,"y2":338},{"s":"cd3","b":"L1","x":766,"y":337,"y2":347},{"s":"cd3","b":"L1","x":774,"y":337,"y2":348},
{"s":"cc4","b":"L3","x":754,"y":499,"y2":501},{"s":"cc4","b":"L3","x":764,"y":493,"y2":501},{"s":"cc4","b":"L3","x":774,"y":491,"y2":501},
{"s":"cd4","b":"L1","x":756,"y":500,"y2":501},{"s":"cd4","b":"L1","x":764,"y":495,"y2":501},{"s":"cd4","b":"L1","x":774,"y":494,"y2":501},

{"s":"d2l","b":"L2","x":820,"y":337,"y2":501},{"s":"d2l","b":"L2","x":848,"y":337,"y2":501},{"s":"d2l","b":"L2","x":861,"y":337,"y2":487},{"s":"d2l","b":"L2","x":875,"y":337,"y2":477},{"s":"d2l","b":"L2","x":888,"y":337,"y2":473},{"s":"d2l","b":"L2","x":905,"y":337,"y2":477},{"s":"d2l","b":"L2","x":925,"y":337,"y2":487},{"s":"d2l","b":"L2","x":945,"y":337,"y2":501},{"s":"d2l","b":"L2","x":1028,"y":337,"y2":501},{"s":"d2l","b":"L2","x":1051,"y":337,"y2":477},{"s":"d2l","b":"L2","x":1071,"y":337,"y2":457},{"s":"d2l","b":"L2","x":1088,"y":337,"y2":433},{"s":"d2l","b":"L2","x":1096,"y":337,"y2":413},{"s":"d2l","b":"L2","x":1096.5,"y":337,"y2":380},{"s":"d2l","b":"L2","x":1097,"y":337,"y2":337},
{"s":"d2r","b":"L2","x":1315,"y":337,"y2":337},{"s":"d2r","b":"L2","x":1315.5,"y":337,"y2":380},{"s":"d2r","b":"L2","x":1316,"y":337,"y2":413},{"s":"d2r","b":"L2","x":1324,"y":337,"y2":433},{"s":"d2r","b":"L2","x":1341,"y":337,"y2":457},{"s":"d2r","b":"L2","x":1361,"y":337,"y2":477},{"s":"d2r","b":"L2","x":1384,"y":337,"y2":501},{"s":"d2r","b":"L2","x":1467,"y":337,"y2":501},{"s":"d2r","b":"L2","x":1487,"y":337,"y2":487},{"s":"d2r","b":"L2","x":1507,"y":337,"y2":477},{"s":"d2r","b":"L2","x":1524,"y":337,"y2":473},{"s":"d2r","b":"L2","x":1537,"y":337,"y2":477},{"s":"d2r","b":"L2","x":1551,"y":337,"y2":487},{"s":"d2r","b":"L2","x":1564,"y":337,"y2":501},{"s":"d2r","b":"L2","x":1592,"y":337,"y2":501},
{"s":"d3l","b":"L3","x":820,"y":337,"y2":501},{"s":"d3l","b":"L3","x":845,"y":337,"y2":500},{"s":"d3l","b":"L3","x":848,"y":337,"y2":497},{"s":"d3l","b":"L3","x":861,"y":337,"y2":477},{"s":"d3l","b":"L3","x":875,"y":337,"y2":460},{"s":"d3l","b":"L3","x":885,"y":337,"y2":454},{"s":"d3l","b":"L3","x":905,"y":337,"y2":458},{"s":"d3l","b":"L3","x":928,"y":337,"y2":467},{"s":"d3l","b":"L3","x":951,"y":337,"y2":475},{"s":"d3l","b":"L3","x":975,"y":337,"y2":481},{"s":"d3l","b":"L3","x":1001,"y":337,"y2":477},{"s":"d3l","b":"L3","x":1028,"y":337,"y2":463},{"s":"d3l","b":"L3","x":1048,"y":337,"y2":447},{"s":"d3l","b":"L3","x":1061,"y":337,"y2":423},{"s":"d3l","b":"L3","x":1066,"y":337,"y2":403},{"s":"d3l","b":"L3","x":1066.5,"y":337,"y2":370},{"s":"d3l","b":"L3","x":1067,"y":337,"y2":337},
{"s":"d3r","b":"L3","x":1345,"y":337,"y2":337},{"s":"d3r","b":"L3","x":1345.5,"y":337,"y2":370},{"s":"d3r","b":"L3","x":1346,"y":337,"y2":403},{"s":"d3r","b":"L3","x":1351,"y":337,"y2":423},{"s":"d3r","b":"L3","x":1364,"y":337,"y2":447},{"s":"d3r","b":"L3","x":1384,"y":337,"y2":463},{"s":"d3r","b":"L3","x":1411,"y":337,"y2":477},{"s":"d3r","b":"L3","x":1437,"y":337,"y2":481},{"s":"d3r","b":"L3","x":1461,"y":337,"y2":475},{"s":"d3r","b":"L3","x":1484,"y":337,"y2":467},{"s":"d3r","b":"L3","x":1507,"y":337,"y2":458},{"s":"d3r","b":"L3","x":1527,"y":337,"y2":454},{"s":"d3r","b":"L3","x":1537,"y":337,"y2":460},{"s":"d3r","b":"L3","x":1551,"y":337,"y2":477},{"s":"d3r","b":"L3","x":1564,"y":337,"y2":497},{"s":"d3r","b":"L3","x":1567,"y":337,"y2":500},{"s":"d3r","b":"L3","x":1592,"y":337,"y2":501},
{"s":"d4l","b":"L4","x":820,"y":337,"y2":500},{"s":"d4l","b":"L4","x":843,"y":337,"y2":498},{"s":"d4l","b":"L4","x":851,"y":337,"y2":487},{"s":"d4l","b":"L4","x":861,"y":337,"y2":463},{"s":"d4l","b":"L4","x":871,"y":337,"y2":440},{"s":"d4l","b":"L4","x":881,"y":337,"y2":432},{"s":"d4l","b":"L4","x":898,"y":337,"y2":440},{"s":"d4l","b":"L4","x":925,"y":337,"y2":453},{"s":"d4l","b":"L4","x":951,"y":337,"y2":463},{"s":"d4l","b":"L4","x":978,"y":337,"y2":468},{"s":"d4l","b":"L4","x":1008,"y":337,"y2":460},{"s":"d4l","b":"L4","x":1031,"y":337,"y2":443},{"s":"d4l","b":"L4","x":1048,"y":337,"y2":423},{"s":"d4l","b":"L4","x":1055,"y":337,"y2":400},{"s":"d4l","b":"L4","x":1055.5,"y":337,"y2":370},{"s":"d4l","b":"L4","x":1056,"y":337,"y2":337},
{"s":"d4r","b":"L4","x":1356,"y":337,"y2":337},{"s":"d4r","b":"L4","x":1356.5,"y":337,"y2":370},{"s":"d4r","b":"L4","x":1357,"y":337,"y2":400},{"s":"d4r","b":"L4","x":1364,"y":337,"y2":423},{"s":"d4r","b":"L4","x":1381,"y":337,"y2":443},{"s":"d4r","b":"L4","x":1404,"y":337,"y2":460},{"s":"d4r","b":"L4","x":1434,"y":337,"y2":468},{"s":"d4r","b":"L4","x":1461,"y":337,"y2":463},{"s":"d4r","b":"L4","x":1487,"y":337,"y2":453},{"s":"d4r","b":"L4","x":1514,"y":337,"y2":440},{"s":"d4r","b":"L4","x":1531,"y":337,"y2":432},{"s":"d4r","b":"L4","x":1541,"y":337,"y2":440},{"s":"d4r","b":"L4","x":1551,"y":337,"y2":463},{"s":"d4r","b":"L4","x":1561,"y":337,"y2":487},{"s":"d4r","b":"L4","x":1569,"y":337,"y2":498},{"s":"d4r","b":"L4","x":1592,"y":337,"y2":500},
{"s":"d5s","b":"L5","x":820,"y":337,"y2":497},{"s":"d5s","b":"L5","x":843,"y":337,"y2":495},{"s":"d5s","b":"L5","x":850,"y":337,"y2":485},{"s":"d5s","b":"L5","x":855,"y":363,"y2":473},{"s":"d5s","b":"L5","x":861,"y":387,"y2":460},{"s":"d5s","b":"L5","x":868,"y":410,"y2":445},{"s":"d5s","b":"L5","x":873,"y":430,"y2":432},
{"s":"d5t","b":"L5","x":1539,"y":430,"y2":432},{"s":"d5t","b":"L5","x":1544,"y":410,"y2":445},{"s":"d5t","b":"L5","x":1551,"y":387,"y2":460},{"s":"d5t","b":"L5","x":1557,"y":363,"y2":473},{"s":"d5t","b":"L5","x":1562,"y":337,"y2":485},{"s":"d5t","b":"L5","x":1569,"y":337,"y2":495},{"s":"d5t","b":"L5","x":1592,"y":337,"y2":497},
{"s":"d5l","b":"L5","x":881,"y":337,"y2":337},{"s":"d5l","b":"L5","x":881.5,"y":337,"y2":365},{"s":"d5l","b":"L5","x":888,"y":337,"y2":393},{"s":"d5l","b":"L5","x":901,"y":337,"y2":417},{"s":"d5l","b":"L5","x":921,"y":337,"y2":433},{"s":"d5l","b":"L5","x":945,"y":337,"y2":445},{"s":"d5l","b":"L5","x":968,"y":337,"y2":447},{"s":"d5l","b":"L5","x":995,"y":337,"y2":440},{"s":"d5l","b":"L5","x":1015,"y":337,"y2":423},{"s":"d5l","b":"L5","x":1026,"y":337,"y2":397},{"s":"d5l","b":"L5","x":1028,"y":337,"y2":337},
{"s":"d5r","b":"L5","x":1384,"y":337,"y2":337},{"s":"d5r","b":"L5","x":1386,"y":337,"y2":397},{"s":"d5r","b":"L5","x":1397,"y":337,"y2":423},{"s":"d5r","b":"L5","x":1417,"y":337,"y2":440},{"s":"d5r","b":"L5","x":1444,"y":337,"y2":447},{"s":"d5r","b":"L5","x":1467,"y":337,"y2":445},{"s":"d5r","b":"L5","x":1491,"y":337,"y2":433},{"s":"d5r","b":"L5","x":1511,"y":337,"y2":417},{"s":"d5r","b":"L5","x":1524,"y":337,"y2":393},{"s":"d5r","b":"L5","x":1530.5,"y":337,"y2":365},{"s":"d5r","b":"L5","x":1531,"y":337,"y2":337},
{"s":"d7l","b":"L7","x":933,"y":337,"y2":337},{"s":"d7l","b":"L7","x":933.5,"y":337,"y2":363},{"s":"d7l","b":"L7","x":936,"y":337,"y2":383},{"s":"d7l","b":"L7","x":946,"y":337,"y2":400},{"s":"d7l","b":"L7","x":960,"y":337,"y2":407},{"s":"d7l","b":"L7","x":975,"y":337,"y2":402},{"s":"d7l","b":"L7","x":985,"y":337,"y2":383},{"s":"d7l","b":"L7","x":986,"y":337,"y2":363},{"s":"d7l","b":"L7","x":986.5,"y":337,"y2":337},
{"s":"d7r","b":"L7","x":1425.5,"y":337,"y2":337},{"s":"d7r","b":"L7","x":1426,"y":337,"y2":363},{"s":"d7r","b":"L7","x":1427,"y":337,"y2":383},{"s":"d7r","b":"L7","x":1437,"y":337,"y2":402},{"s":"d7r","b":"L7","x":1452,"y":337,"y2":407},{"s":"d7r","b":"L7","x":1466,"y":337,"y2":400},{"s":"d7r","b":"L7","x":1476,"y":337,"y2":383},{"s":"d7r","b":"L7","x":1478.5,"y":337,"y2":363},{"s":"d7r","b":"L7","x":1479,"y":337,"y2":337},
{"s":"d8l","b":"L8","x":820,"y":392,"y2":488},{"s":"d8l","b":"L8","x":833,"y":394,"y2":485},{"s":"d8l","b":"L8","x":837,"y":405,"y2":477},{"s":"d8l","b":"L8","x":838.5,"y":427,"y2":453},
{"s":"d10l","b":"L10","x":820,"y":395,"y2":486},{"s":"d10l","b":"L10","x":828,"y":396,"y2":485},{"s":"d10l","b":"L10","x":833,"y":400,"y2":478},{"s":"d10l","b":"L10","x":835,"y":415,"y2":465},
{"s":"d8r","b":"L8","x":1573.5,"y":427,"y2":453},{"s":"d8r","b":"L8","x":1575,"y":405,"y2":477},{"s":"d8r","b":"L8","x":1579,"y":394,"y2":485},{"s":"d8r","b":"L8","x":1592,"y":392,"y2":488},
{"s":"d10r","b":"L10","x":1577,"y":415,"y2":465},{"s":"d10r","b":"L10","x":1579,"y":400,"y2":478},{"s":"d10r","b":"L10","x":1584,"y":396,"y2":485},{"s":"d10r","b":"L10","x":1592,"y":395,"y2":486},
{"s":"dc1","b":"L3","x":820,"y":337,"y2":351},{"s":"dc1","b":"L3","x":830,"y":337,"y2":350},{"s":"dc1","b":"L3","x":835,"y":337,"y2":337},
{"s":"dd1","b":"L1","x":820,"y":337,"y2":348},{"s":"dd1","b":"L1","x":828,"y":337,"y2":347},{"s":"dd1","b":"L1","x":832,"y":337,"y2":338},
{"s":"dc2","b":"L3","x":820,"y":491,"y2":501},{"s":"dc2","b":"L3","x":830,"y":493,"y2":501},{"s":"dc2","b":"L3","x":840,"y":499,"y2":501},
{"s":"dd2","b":"L1","x":820,"y":494,"y2":501},{"s":"dd2","b":"L1","x":830,"y":495,"y2":501},{"s":"dd2","b":"L1","x":838,"y":500,"y2":501},
{"s":"dc3","b":"L3","x":1577,"y":337,"y2":337},{"s":"dc3","b":"L3","x":1582,"y":337,"y2":350},{"s":"dc3","b":"L3","x":1592,"y":337,"y2":351},
{"s":"dd3","b":"L1","x":1580,"y":337,"y2":338},{"s":"dd3","b":"L1","x":1584,"y":337,"y2":347},{"s":"dd3","b":"L1","x":1592,"y":337,"y2":348},
{"s":"dc4","b":"L3","x":1572,"y":499,"y2":501},{"s":"dc4","b":"L3","x":1582,"y":493,"y2":501},{"s":"dc4","b":"L3","x":1592,"y":491,"y2":501},
{"s":"dd4","b":"L1","x":1574,"y":500,"y2":501},{"s":"dd4","b":"L1","x":1582,"y":495,"y2":501},{"s":"dd4","b":"L1","x":1592,"y":494,"y2":501}
]},
"mark":{"type":"area","interpolate":"monotone","opacity":1},
"encoding":{"x":{"field":"x","type":"quantitative","scale":{"domain":[0,1905],"nice":false,"zero":false},"axis":null},"y":{"field":"y","type":"quantitative","stack":null,"scale":{"domain":[0,665],"reverse":true,"nice":false,"zero":false},"axis":null},"y2":{"field":"y2"},"detail":{"field":"s"},
"fill":{"field":"b","type":"nominal","legend":null,"scale":{"domain":["L1","L2","L3","L4","L5","L7","L8","L9","L10","K","G","D","Y2"],"range":["#39499f","#3a6ab0","#3bbfe8","#62bfa0","#55b847","#abd137","#f8e10f","#f37021","#e3171f","#0f1030","#1d8f52","#27379a","#dcd626"]}}}},
{"data":{"values":[{"hole":"left","x":141,"y":60},{"hole":"right","x":635,"y":60}]},
"mark":{"type":"point","filled":true,"opacity":1,"color":"white","size":1385},
"encoding":{"x":{"field":"x","type":"quantitative","scale":{"domain":[0,1905],"nice":false,"zero":false},"axis":null},"y":{"field":"y","type":"quantitative","scale":{"domain":[0,665],"reverse":true,"nice":false,"zero":false},"axis":null}}},
{"data":{"values":[
{"level":"a","x":1870,"x2":1900,"y":36,"y2":90.1},{"level":"b","x":1870,"x2":1900,"y":90.1,"y2":144.2},{"level":"c","x":1870,"x2":1900,"y":144.2,"y2":198.3},{"level":"d","x":1870,"x2":1900,"y":198.3,"y2":252.4},{"level":"e","x":1870,"x2":1900,"y":252.4,"y2":306.5},{"level":"f","x":1870,"x2":1900,"y":306.5,"y2":360.6},{"level":"g","x":1870,"x2":1900,"y":360.6,"y2":414.7},{"level":"h","x":1870,"x2":1900,"y":414.7,"y2":468.8},{"level":"i","x":1870,"x2":1900,"y":468.8,"y2":522.9},{"level":"j","x":1870,"x2":1900,"y":522.9,"y2":577}]},
"mark":{"type":"rect"},
"encoding":{"x":{"field":"x","type":"quantitative","scale":{"domain":[0,1905],"nice":false,"zero":false},"axis":null},"x2":{"field":"x2"},"y":{"field":"y","type":"quantitative","scale":{"domain":[0,665],"reverse":true,"nice":false,"zero":false},"axis":null},"y2":{"field":"y2"},
"fill":{"field":"level","type":"nominal","legend":null,"scale":{"domain":["a","b","c","d","e","f","g","h","i","j"],"range":["#3a4fa1","#3e6eb5","#52c5ea","#6fc198","#6cbd45","#6cbd45","#add136","#fbe60f","#f37021","#ed1c24"]}}}},
{"data":{"values":[{"x":1852,"x2":1870,"y":41},{"x":1852,"x2":1870,"y":95.2},{"x":1852,"x2":1870,"y":149.3},{"x":1852,"x2":1870,"y":203.5},{"x":1852,"x2":1870,"y":257.7},{"x":1852,"x2":1870,"y":311.9},{"x":1852,"x2":1870,"y":366},{"x":1852,"x2":1870,"y":420.2},{"x":1852,"x2":1870,"y":474.4},{"x":1852,"x2":1870,"y":528.5},{"x":1852,"x2":1870,"y":582.7}]},
"mark":{"type":"rule","color":"#333333","strokeWidth":3},
"encoding":{"x":{"field":"x","type":"quantitative","scale":{"domain":[0,1905],"nice":false,"zero":false},"axis":null},"x2":{"field":"x2"},"y":{"field":"y","type":"quantitative","scale":{"domain":[0,665],"reverse":true,"nice":false,"zero":false},"axis":null}}},
{"data":{"values":[{"t":"4.337e-19","x":1843,"y":27},{"t":"-1.000e-03","x":1843,"y":81.2},{"t":"-2.000e-03","x":1843,"y":135.4},{"t":"-3.000e-03","x":1843,"y":189.6},{"t":"-4.000e-03","x":1843,"y":243.8},{"t":"-5.000e-03","x":1843,"y":298},{"t":"-6.000e-03","x":1843,"y":352.2},{"t":"-7.000e-03","x":1843,"y":406.4},{"t":"-8.000e-03","x":1843,"y":460.6},{"t":"-9.000e-03","x":1843,"y":514.8},{"t":"-1.000e-02","x":1843,"y":569}]},
"mark":{"type":"text","align":"right","baseline":"middle","font":"Liberation Sans","fontWeight":"bold","fontSize":31,"color":"#222222"},
"encoding":{"x":{"field":"x","type":"quantitative","scale":{"domain":[0,1905],"nice":false,"zero":false},"axis":null},"y":{"field":"y","type":"quantitative","scale":{"domain":[0,665],"reverse":true,"nice":false,"zero":false},"axis":null},"text":{"field":"t"}}},
{"data":{"values":[{"t":"(a)","x":388.5,"y":203},{"t":"(b)","x":1206,"y":203},{"t":"(c)","x":389,"y":641},{"t":"(d)","x":1207,"y":641}]},
"mark":{"type":"text","align":"center","baseline":"middle","font":"Liberation Serif","fontWeight":"bold","fontSize":40,"color":"#111111"},
"encoding":{"x":{"field":"x","type":"quantitative","scale":{"domain":[0,1905],"nice":false,"zero":false},"axis":null},"y":{"field":"y","type":"quantitative","scale":{"domain":[0,665],"reverse":true,"nice":false,"zero":false},"axis":null},"text":{"field":"t"}}},
{"data":{"values":[{"t":"(e)","x":1797,"y":641}]},
"mark":{"type":"text","align":"center","baseline":"middle","font":"Liberation Serif","fontWeight":"bold","fontStyle":"italic","fontSize":40,"color":"#111111"},
"encoding":{"x":{"field":"x","type":"quantitative","scale":{"domain":[0,1905],"nice":false,"zero":false},"axis":null},"y":{"field":"y","type":"quantitative","scale":{"domain":[0,665],"reverse":true,"nice":false,"zero":false},"axis":null},"text":{"field":"t"}}}
]}
